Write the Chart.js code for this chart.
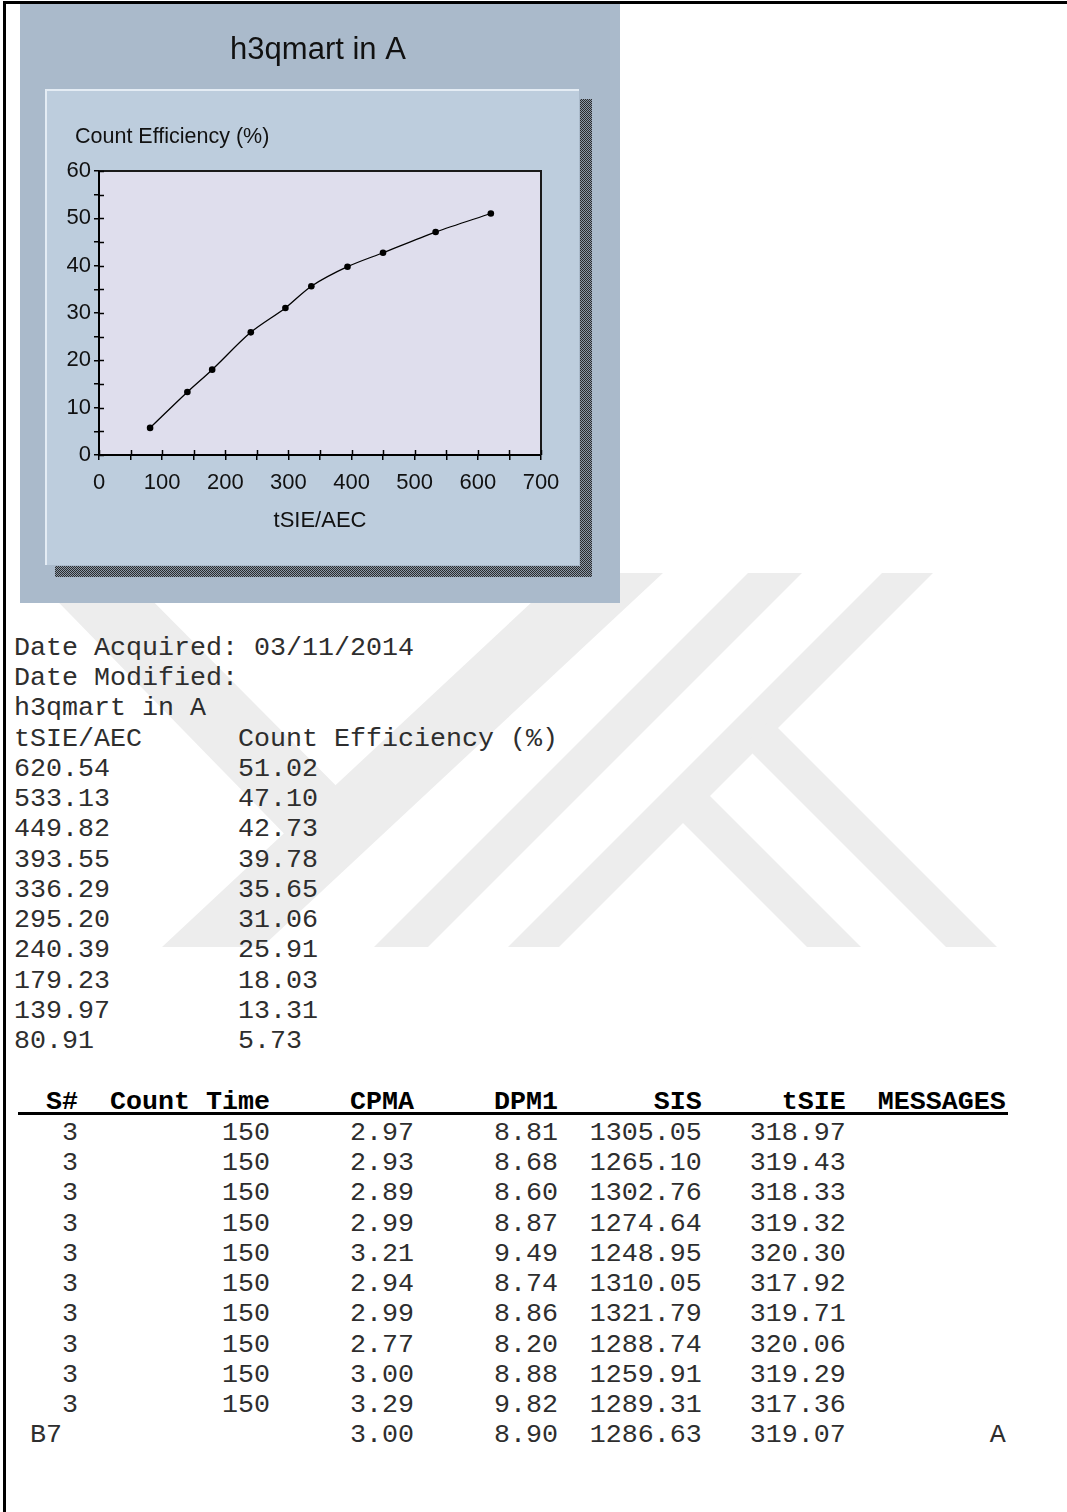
<!DOCTYPE html>
<html>
<head>
<meta charset="utf-8">
<script src="https://cdn.jsdelivr.net/npm/chart.js@4.4.1/dist/chart.umd.min.js"></script>
<style>
  html, body { margin: 0; padding: 0; background: #fff; }
  body { width: 1067px; height: 1512px; position: relative; overflow: hidden; }
  #frame { position: absolute; left: 3px; top: 1px; width: 1070px; height: 1520px;
           border-left: 3px solid #000; border-top: 3px solid #000; }
  #watermark { position: absolute; left: 0; top: 0; }
  #panel { position: absolute; left: 20px; top: 4px; width: 600px; height: 599px; background: #aabacb; }
  #box { position: absolute; left: 45px; top: 89px; width: 534px; height: 476px; background: #bdcddd;
         border-top: 2px solid #e4ecf4; border-left: 2px solid #e4ecf4; box-sizing: border-box; }
  .shadow { position: absolute;
            background: repeating-conic-gradient(#2b2b2b 0% 25%, #8a98a8 0% 50%) 0 0 / 2px 2px; }
  #chartWrap { position: absolute; left: 20px; top: 3px; width: 600px; height: 600px; }
  pre { position: absolute; margin: 0; font-family: "Liberation Mono", "Courier New", monospace;
        font-size: 26.66px; line-height: 30.23px; color: #2e2e2e; }
  #header { font-weight: bold; color: #000; }
  #rule { position: absolute; left: 18px; top: 1112px; width: 990px; height: 3px; background: #000; }
</style>
</head>
<body>
<svg id="watermark" width="1067" height="1512"></svg>
<div id="frame"></div>
<div id="panel"></div>
<div id="box"></div>
<div class="shadow" style="left:580px; top:99px; width:12px; height:478px;"></div>
<div class="shadow" style="left:55px; top:566px; width:537px; height:11px;"></div>
<div id="chartWrap"><canvas id="effChart" width="600" height="600"></canvas></div>
<pre id="info" style="left:14px; top:633px;"></pre>
<pre id="header" style="left:14px; top:1087px;"></pre>
<div id="rule"></div>
<pre id="rows" style="left:14px; top:1118px;"></pre>

<script>
// quench curve data (tSIE/AEC vs count efficiency)
const chartTitle = 'h3qmart in A';
const xTitle = 'tSIE/AEC';
const yTitle = 'Count Efficiency (%)';
const tsie = [620.54, 533.13, 449.82, 393.55, 336.29, 295.20, 240.39, 179.23, 139.97, 80.91];
const efficiency = [51.02, 47.10, 42.73, 39.78, 35.65, 31.06, 25.91, 18.03, 13.31, 5.73];

// sample runs table
const sampleIds = ['3', '3', '3', '3', '3', '3', '3', '3', '3', '3', 'B7'];
const countTimes = ['150', '150', '150', '150', '150', '150', '150', '150', '150', '150', ''];
const cpma = [2.97, 2.93, 2.89, 2.99, 3.21, 2.94, 2.99, 2.77, 3.00, 3.29, 3.00];
const dpm1 = [8.81, 8.68, 8.60, 8.87, 9.49, 8.74, 8.86, 8.20, 8.88, 9.82, 8.90];
const sis = [1305.05, 1265.10, 1302.76, 1274.64, 1248.95, 1310.05, 1321.79, 1288.74, 1259.91, 1289.31, 1286.63];
const tsieRuns = [318.97, 319.43, 318.33, 319.32, 320.30, 317.92, 319.71, 320.06, 319.29, 317.36, 319.07];
const messages = ['', '', '', '', '', '', '', '', '', '', 'A'];

const plotBg = '#dfdeed';
const sansFamily = 'Liberation Sans, Arial, sans-serif';
const tickFont = { family: sansFamily, size: 22 };

// background watermark bands
const wmBands = [
    [[563, 573], [663, 573], [262, 947], [162, 947]],
    [[30, 573], [125, 573], [380, 830], [300, 850]],
    [[748, 573], [802, 573], [428, 947], [374, 947]],
    [[882, 573], [933, 573], [559, 947], [508, 947]],
    [[744, 745], [770, 720], [997, 947], [946, 947]],
    [[675, 815], [702, 788], [861, 947], [807, 947]]
];
const svg = document.getElementById('watermark');
wmBands.forEach(b => {
    const p = document.createElementNS('http://www.w3.org/2000/svg', 'polygon');
    p.setAttribute('points', b.map(pt => pt.join(',')).join(' '));
    p.setAttribute('fill', '#ededed');
    svg.appendChild(p);
});

// text listing below the chart
let info = ['Date Acquired: 03/11/2014', 'Date Modified:', chartTitle, xTitle.padEnd(14) + yTitle];
tsie.forEach((t, i) => {
    info.push(t.toFixed(2).padEnd(14) + efficiency[i].toFixed(2));
});
document.getElementById('info').textContent = info.join('\n');

document.getElementById('header').textContent =
    '  S#' + 'Count Time'.padStart(12) + 'CPMA'.padStart(9) + 'DPM1'.padStart(9) +
    'SIS'.padStart(9) + 'tSIE'.padStart(9) + 'MESSAGES'.padStart(10);

const rows = sampleIds.map((id, i) => {
    const idStr = isNaN(id) ? (' ' + id).padEnd(4) : id.padStart(4);
    return idStr + countTimes[i].padStart(12) + cpma[i].toFixed(2).padStart(9) +
        dpm1[i].toFixed(2).padStart(9) + sis[i].toFixed(2).padStart(9) +
        tsieRuns[i].toFixed(2).padStart(9) + messages[i].padStart(10);
});
document.getElementById('rows').textContent = rows.join('\n');

// plot background, frame, inward ticks, titles
const framePlugin = {
    id: 'frame',
    beforeDraw(chart) {
        const { ctx, chartArea: a } = chart;
        ctx.save();
        ctx.fillStyle = plotBg;
        ctx.fillRect(a.left, a.top, a.right - a.left, a.bottom - a.top);
        ctx.restore();
    },
    afterDraw(chart) {
        const { ctx, chartArea: a } = chart;
        ctx.save();
        ctx.strokeStyle = '#1a1a1a';
        ctx.lineWidth = 2;
        ctx.beginPath();
        ctx.moveTo(a.left, a.top);
        ctx.lineTo(a.right, a.top);
        ctx.lineTo(a.right, a.bottom);
        ctx.stroke();

        ctx.strokeStyle = '#000';
        ctx.lineWidth = 1.5;
        const xs = chart.scales.x;
        xs.ticks.forEach(t => {
            const px = Math.round(xs.getPixelForValue(t.value)) + 0.5;
            ctx.beginPath();
            ctx.moveTo(px, a.bottom);
            ctx.lineTo(px, a.bottom - 5);
            ctx.stroke();
        });
        const ys = chart.scales.y;
        ys.ticks.forEach(t => {
            const py = Math.round(ys.getPixelForValue(t.value)) + 0.5;
            ctx.beginPath();
            ctx.moveTo(a.left, py);
            ctx.lineTo(a.left + 5, py);
            ctx.stroke();
        });

        ctx.fillStyle = '#111';
        ctx.textBaseline = 'middle';
        ctx.font = '31px ' + sansFamily;
        ctx.textAlign = 'center';
        ctx.fillText(chartTitle, 298, 47);
        ctx.font = '21.5px ' + sansFamily;
        ctx.textAlign = 'left';
        ctx.fillText(yTitle, a.left - 24, a.top - 34);
        ctx.restore();
    }
};

const ctx = document.getElementById('effChart').getContext('2d');
new Chart(ctx, {
    type: 'scatter',
    data: {
        datasets: [{
            data: tsie.map((t, i) => ({ x: t, y: efficiency[i] })),
            showLine: true,
            tension: 0.3,
            borderColor: '#000',
            borderWidth: 1.3,
            pointRadius: 3.3,
            pointBackgroundColor: '#000',
            pointBorderColor: '#000',
            pointBorderWidth: 0
        }]
    },
    options: {
        responsive: false,
        animation: false,
        devicePixelRatio: 1,
        layout: { padding: { left: 0, top: 168, right: 79, bottom: 69 } },
        plugins: { legend: { display: false }, tooltip: { enabled: false } },
        scales: {
            x: {
                type: 'linear',
                min: 0,
                max: 700,
                afterFit: scale => { scale.height = 79; },
                border: { color: '#000', width: 2 },
                grid: { drawOnChartArea: false, tickLength: 5, color: '#000', lineWidth: 1.5 },
                ticks: {
                    stepSize: 50,
                    autoSkip: false,
                    maxRotation: 0,
                    padding: 10,
                    color: '#111',
                    font: tickFont,
                    callback: v => (v % 100 === 0 ? v : '')
                },
                title: {
                    display: true,
                    text: xTitle,
                    color: '#111',
                    font: { family: sansFamily, size: 22 },
                    padding: { top: 0, bottom: 0 }
                }
            },
            y: {
                min: 0,
                max: 60,
                afterFit: scale => { scale.width = 79; },
                border: { color: '#000', width: 2 },
                grid: { drawOnChartArea: false, tickLength: 5, color: '#000', lineWidth: 1.5 },
                ticks: {
                    stepSize: 5,
                    autoSkip: false,
                    padding: 3,
                    color: '#111',
                    font: tickFont,
                    callback: v => (v % 10 === 0 ? v : '')
                }
            }
        }
    },
    plugins: [framePlugin]
});
</script>
</body>
</html>
